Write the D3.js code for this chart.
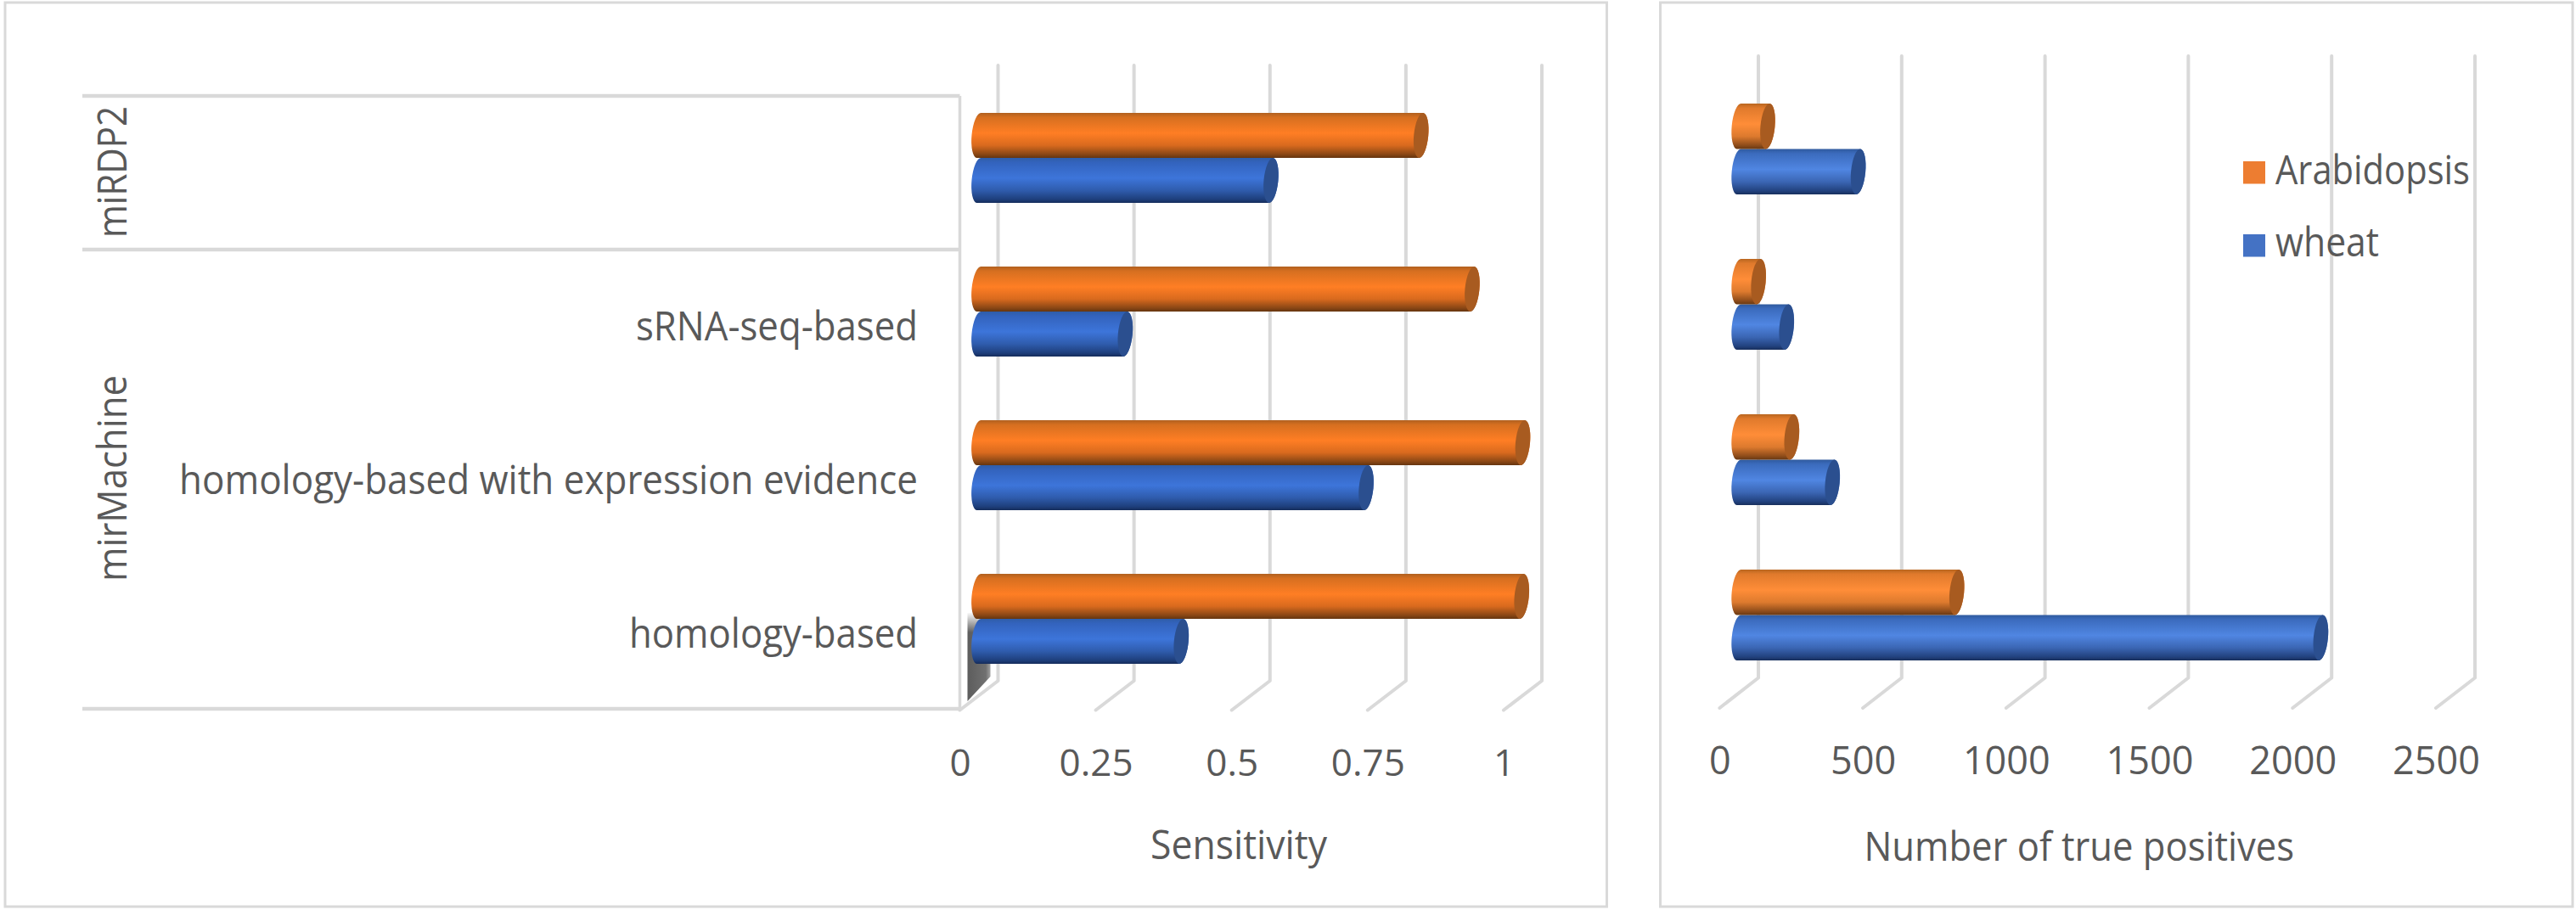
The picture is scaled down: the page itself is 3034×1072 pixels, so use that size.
<!DOCTYPE html>
<html>
<head>
<meta charset="utf-8">
<title>Sensitivity and true positives</title>
<script src="https://cdn.jsdelivr.net/npm/d3@7"></script>
<style>
  body { margin: 0; background: #fff; }
  svg { display: block; }
  text { font-family: "Open Sans", sans-serif; fill: #595959; }
</style>
</head>
<body>
<svg id="chart" width="3034" height="1072"></svg>
<script>
// data
var categories = ["miRDP2", "sRNA-seq-based", "homology-based with expression evidence", "homology-based"];
var categoryLabels = ["", "sRNA-seq-based", "homology-based with expression evidence", "homology-based"];
var seriesNames = ["wheat", "Arabidopsis"];

var sensitivityWheat = [0.537, 0.269, 0.712, 0.372];
var sensitivityArabidopsis = [0.813, 0.907, 1.0, 0.998];
var positivesWheat = [416, 166, 326, 2030];
var positivesArabidopsis = [100, 68, 184, 760];

var sensitivityTicks = [0, 0.25, 0.5, 0.75, 1];
var positivesTicks = [0, 500, 1000, 1500, 2000, 2500];

var labelWidths = {};
labelWidths[""] = 1;
labelWidths["sRNA-seq-based"] = 332;
labelWidths["homology-based with expression evidence"] = 870;
labelWidths["homology-based"] = 340;

var svg = d3.select("#chart");
var defs = svg.append("defs");

function vgrad(id, stops) {
  var g = defs.append("linearGradient").attr("id", id)
    .attr("x1", 0).attr("y1", 0).attr("x2", 0).attr("y2", 1);
  stops.forEach(function(s) {
    g.append("stop").attr("offset", s[0]).attr("stop-color", s[1]).attr("stop-opacity", s[2] === undefined ? 1 : s[2]);
  });
}

vgrad("orangeL", [[0, "#b0601f"], [0.1, "#d66f20"], [0.45, "#ff7e24"], [0.72, "#d96a1e"], [0.92, "#8a4715"], [1, "#65350f"]]);
vgrad("blueL", [[0, "#2f5da8"], [0.1, "#3363bd"], [0.45, "#3d75da"], [0.72, "#2f5cad"], [0.92, "#1e3f7c"], [1, "#152c5b"]]);
vgrad("orangeR", [[0, "#b9661f"], [0.1, "#e07a2c"], [0.45, "#ff8d38"], [0.72, "#dd7a2e"], [0.92, "#8e4c1a"], [1, "#683812"]]);
vgrad("blueR", [[0, "#2f5a9e"], [0.1, "#3b6bbd"], [0.45, "#5086e2"], [0.72, "#3b66b4"], [0.92, "#22427f"], [1, "#182f5c"]]);
vgrad("wallFade", [[0, "#fff", 1], [1, "#fff", 0]]);

var wall = defs.append("linearGradient").attr("id", "wallShade")
  .attr("x1", 0).attr("y1", 0).attr("x2", 1).attr("y2", 0);
wall.append("stop").attr("offset", 0).attr("stop-color", "#5c5c5c");
wall.append("stop").attr("offset", 0.8).attr("stop-color", "#707070");
wall.append("stop").attr("offset", 1).attr("stop-color", "#a0a0a0");

var capColor = { Arabidopsis: "#a85b20", wheat: "#2b4f8f" };
var tilt = 5.5;
var labelSize = 47;

// one bar panel: grid, cylinders, tick labels
function drawPanel(o) {
  var g = svg.append("g");

  g.append("rect").attr("x", o.box[0]).attr("y", o.box[1])
    .attr("width", o.box[2] - o.box[0]).attr("height", o.box[3] - o.box[1])
    .attr("fill", "#fff").attr("stroke", "#d9d9d9").attr("stroke-width", 3);

  var xFront = d3.scaleLinear().domain(o.domain).range(o.front);
  var xBack = d3.scaleLinear().domain(o.domain).range(o.back);
  var xBar = d3.scaleLinear().domain(o.domain).range([(o.front[0] + o.back[0]) / 2, (o.front[1] + o.back[1]) / 2]);

  var y = d3.scaleBand().domain(categories).range(o.yRange).paddingInner(o.gap).paddingOuter(0);
  var ySeries = d3.scaleBand().domain(["Arabidopsis", "wheat"]).range([0, y.bandwidth()]);

  var gridLine = d3.line();
  g.append("g").selectAll("path").data(o.ticks).enter().append("path")
    .attr("d", function(t) {
      return gridLine([[xBack(t), o.gridTop], [xBack(t), o.backY], [xFront(t), o.frontY]]);
    })
    .attr("fill", "none").attr("stroke", "#d9d9d9").attr("stroke-width", 4)
    .attr("stroke-linecap", "round").attr("stroke-linejoin", "round");

  if (o.beforeBars) o.beforeBars(g, xFront, xBack, y);

  var rx = 8.5;
  var ry = ySeries.bandwidth() / 2;
  var skew = ry * Math.sin(tilt * Math.PI / 180);

  // wheat first so Arabidopsis sits on top of it, as in the picture
  seriesNames.forEach(function(name) {
    var vals = o.values[name];
    var bars = g.append("g").selectAll("g").data(categories).enter().append("g");

    bars.append("path")
      .attr("fill", "url(#" + (name == "wheat" ? "blue" : "orange") + o.side + ")")
      .attr("d", function(c, i) {
        var x0 = xBar(0), x1 = xBar(vals[i]);
        var top = y(c) + ySeries(name), bot = top + ry * 2;
        var arc = "A" + rx + " " + ry + " " + tilt + " 0 1 ";
        return "M" + (x0 + skew) + "," + top + "H" + (x1 + skew) +
          arc + (x1 - skew) + " " + bot + "H" + (x0 - skew) +
          arc + (x0 + skew) + " " + top + "Z";
      });

    bars.append("ellipse")
      .attr("rx", rx).attr("ry", ry).attr("fill", capColor[name])
      .attr("transform", function(c, i) {
        return "translate(" + xBar(vals[i]) + "," + (y(c) + ySeries(name) + ry) + ") rotate(" + tilt + ")";
      });
  });

  var axis = d3.axisBottom(xFront).tickValues(o.ticks).tickSize(0).tickPadding(0).tickFormat(d3.format("~g"));
  var ax = g.append("g").attr("transform", "translate(0," + o.tickBaseline + ")").call(axis);
  ax.select(".domain").remove();
  ax.selectAll("text").attr("y", 0).attr("dy", 0)
    .style("font-family", '"Open Sans", sans-serif')
    .style("font-size", o.tickSize + "px").style("fill", "#595959");

  g.append("text").text(o.title)
    .attr("x", o.titleX[0]).attr("y", o.titleBaseline)
    .attr("font-size", labelSize)
    .attr("textLength", o.titleX[1] - o.titleX[0]).attr("lengthAdjust", "spacingAndGlyphs");
}

drawPanel({
  side: "L",
  box: [6, 3, 1892.5, 1068],
  domain: [0, 1],
  front: [1130.5, 1771],
  back: [1175.5, 1816],
  yRange: [133, 782],
  gap: 1 - 106 / 181,
  gridTop: 77, backY: 802, frontY: 836.5,
  ticks: sensitivityTicks,
  values: { wheat: sensitivityWheat, Arabidopsis: sensitivityArabidopsis },
  tickBaseline: 914,
  tickSize: 44,
  title: "Sensitivity",
  titleX: [1355, 1563],
  titleBaseline: 1012,
  beforeBars: function(g, xFront, xBack, y) {
    // category axis: separators, wall line and the grey wall patch
    var sepY = [y(categories[0]) - 20, y(categories[1]) - 20, 835];
    g.append("g").selectAll("line").data(sepY).enter().append("line")
      .attr("x1", 97).attr("x2", xFront(0)).attr("y1", function(d) { return d; }).attr("y2", function(d) { return d; })
      .attr("stroke", "#d9d9d9").attr("stroke-width", 4.5);
    g.append("line").attr("x1", xFront(0)).attr("x2", xFront(0)).attr("y1", sepY[0]).attr("y2", 835)
      .attr("stroke", "#d9d9d9").attr("stroke-width", 3.5);

    var wx0 = xFront(0) + 9, wx1 = xBack(0) - 9;
    g.append("path")
      .attr("d", d3.line()([[wx0, 826], [wx0, 722], [wx1, 722], [wx1, 797]]) + "Z")
      .attr("fill", "url(#wallShade)");
    g.append("rect").attr("x", wx0 - 1).attr("y", 721).attr("width", wx1 - wx0 + 2).attr("height", 24)
      .attr("fill", "url(#wallFade)");

    g.append("g").selectAll("text").data(categoryLabels).enter().append("text")
      .text(function(d) { return d; })
      .attr("x", 1081).attr("y", function(d, i) { return y(categories[i]) + y.bandwidth() / 2 + 34; })
      .attr("text-anchor", "end").attr("font-size", labelSize)
      .attr("textLength", function(d) { return labelWidths[d]; })
      .attr("lengthAdjust", "spacingAndGlyphs");

    var groups = [
      { name: "miRDP2", mid: (sepY[0] + sepY[1]) / 2 - 1, len: 155 },
      { name: "mirMachine", mid: (sepY[1] + sepY[2]) / 2 - 1, len: 243 }
    ];
    g.append("g").selectAll("text").data(groups).enter().append("text")
      .text(function(d) { return d.name; })
      .attr("transform", function(d) { return "translate(149," + d.mid + ") rotate(-90)"; })
      .attr("text-anchor", "middle").attr("font-size", labelSize)
      .attr("textLength", function(d) { return d.len; })
      .attr("lengthAdjust", "spacingAndGlyphs");
  }
});

drawPanel({
  side: "R",
  box: [1955.5, 3, 3030, 1068],
  domain: [0, 2500],
  front: [2025.4, 2869],
  back: [2071, 2915],
  yRange: [122, 778],
  gap: 1 - 107 / 183,
  gridTop: 66, backY: 798.5, frontY: 834,
  ticks: positivesTicks,
  values: { wheat: positivesWheat, Arabidopsis: positivesArabidopsis },
  tickBaseline: 912,
  tickSize: 45,
  title: "Number of true positives",
  titleX: [2195.5, 2702],
  titleBaseline: 1014
});

// legend
var legendItems = [
  { name: "Arabidopsis", color: "#ed7d31", top: 190, base: 216.7, len: 229 },
  { name: "wheat", color: "#4472c4", top: 276, base: 301.7, len: 122 }
];
var legend = svg.append("g").selectAll("g").data(legendItems).enter().append("g");
legend.append("rect").attr("x", 2642).attr("y", function(d) { return d.top; })
  .attr("width", 26).attr("height", 26.5).attr("fill", function(d) { return d.color; });
legend.append("text").text(function(d) { return d.name; })
  .attr("x", 2680).attr("y", function(d) { return d.base; })
  .attr("font-size", labelSize)
  .attr("textLength", function(d) { return d.len; }).attr("lengthAdjust", "spacingAndGlyphs");
</script>
</body>
</html>
